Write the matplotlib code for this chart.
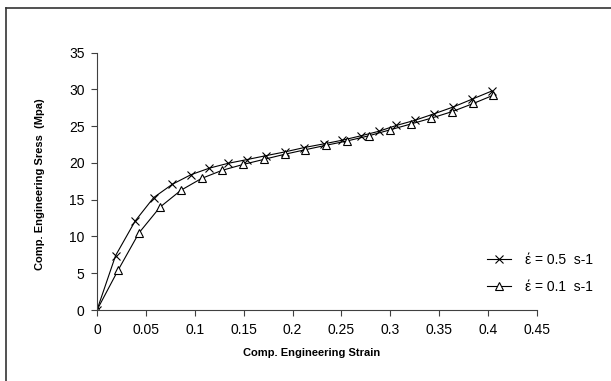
import matplotlib
matplotlib.use("Agg")
import matplotlib.pyplot as plt
from matplotlib.lines import Line2D

plt.rcParams["font.family"] = ["Liberation Sans", "DejaVu Sans"]

# strain rate 0.5 s-1 (x markers)
strain_05 = [0, 0.019, 0.039, 0.058, 0.077, 0.096, 0.115, 0.134, 0.153, 0.173,
             0.192, 0.212, 0.232, 0.251, 0.270, 0.288, 0.306, 0.325, 0.345,
             0.364, 0.384, 0.404]
stress_05 = [0, 7.4, 12.1, 15.3, 17.1, 18.4, 19.3, 19.95, 20.45, 21.0,
             21.5, 22.1, 22.6, 23.1, 23.7, 24.3, 25.1, 25.8, 26.7,
             27.6, 28.7, 29.8]

# strain rate 0.1 s-1 (triangle markers)
strain_01 = [0, 0.0215, 0.043, 0.0645, 0.086, 0.107, 0.128, 0.1495, 0.171,
             0.1925, 0.213, 0.234, 0.256, 0.278, 0.2995, 0.321, 0.342,
             0.3635, 0.385, 0.405]
stress_01 = [0, 5.4, 10.5, 14.0, 16.3, 17.9, 19.0, 19.8, 20.5,
             21.2, 21.8, 22.4, 23.0, 23.7, 24.5, 25.3, 26.1,
             27.0, 28.1, 29.2]

labels = ["\u03ad = 0.5  s-1", "\u03ad = 0.1  s-1"]
xticks = [0, 0.05, 0.1, 0.15, 0.2, 0.25, 0.3, 0.35, 0.4, 0.45]
xticklabels = ["0", "0.05", "0.1", "0.15", "0.2", "0.25", "0.3", "0.35", "0.4", "0.45"]
yticks = [0, 5, 10, 15, 20, 25, 30, 35]

W, H = 611, 381
fig = plt.figure(figsize=(W / 100, H / 100), dpi=100)
ax = fig.add_axes([97 / W, 1 - 310 / H, 440 / W, (310 - 52.7) / H])

ax.plot(strain_05, stress_05, color="black", lw=0.8, marker="x", ms=5.5,
        mew=0.8, label=labels[0])
ax.plot(strain_01, stress_01, color="black", lw=0.8, marker="^", ms=5.5,
        mew=0.8, mfc="white", label=labels[1])

ax.set_xlim(0, 0.45)
ax.set_ylim(0, 35)
ax.set_xticks(xticks)
ax.set_xticklabels(xticklabels)
ax.set_yticks(yticks)
ax.tick_params(labelsize=10, length=4, width=0.8, color="#404040", pad=5)
for s in ("top", "right"):
    ax.spines[s].set_visible(False)
for s in ("left", "bottom"):
    ax.spines[s].set_color("#404040")
    ax.spines[s].set_linewidth(0.8)

fig.text(312 / W, 1 - 353 / H, "Comp. Engineering Strain", ha="center",
         va="center", fontsize=8, fontweight="bold")
fig.text(40 / W, 1 - 184 / H, "Comp. Engineering Sress  (Mpa)", ha="center",
         va="center", rotation=90, fontsize=8, fontweight="bold")

ax.legend(loc="center left", bbox_to_anchor=(487 / W, 1 - 273.5 / H),
          bbox_transform=fig.transFigure, frameon=False, fontsize=10,
          handlelength=1.75, handletextpad=1.0, labelspacing=0.95,
          borderpad=0, borderaxespad=0)

# outer frame (only left and top edges visible in the original)
fig.add_artist(Line2D([6 / W, 6 / W], [0, 1 - 8 / H], color="#333333", lw=1.2))
fig.add_artist(Line2D([6 / W, 1], [1 - 8 / H, 1 - 8 / H], color="#333333", lw=1.2))

fig.savefig("out.png", dpi=100)
